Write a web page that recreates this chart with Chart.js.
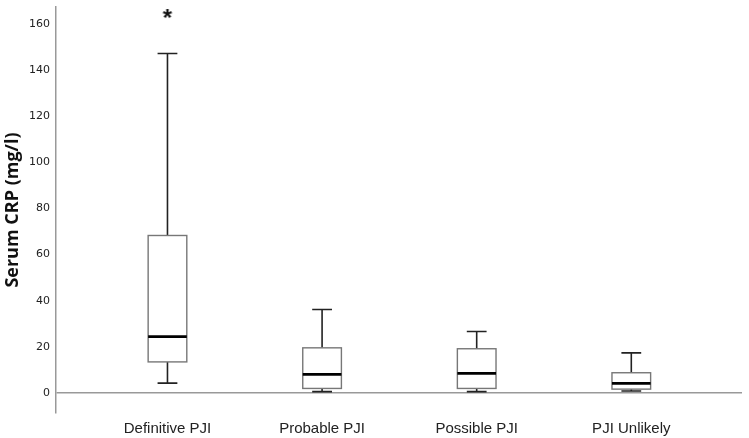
<!DOCTYPE html>
<html>
<head>
<meta charset="utf-8">
<script src="https://cdn.jsdelivr.net/npm/chart.js@4/dist/chart.umd.min.js"></script>
<style>
  html, body { margin: 0; padding: 0; background: #fff; }
  #wrap { width: 749px; height: 438px; }
</style>
</head>
<body>
<div id="wrap"><canvas id="myChart"></canvas></div>
<script>
// values
var categories = ['Definitive PJI', 'Probable PJI', 'Possible PJI', 'PJI Unlikely'];
var whiskerLow = [4.3, 0.6, 0.6, 0.9];
var q1 = [13.5, 2.0, 2.0, 1.7];
var median = [24.5, 8.1, 8.5, 4.2];
var q3 = [68.3, 19.6, 19.2, 8.8];
var whiskerHigh = [147.2, 36.2, 26.7, 17.4];
var outliers = [{ x: 1, y: 164.3 }];
var yTicks = [0, 20, 40, 60, 80, 100, 120, 140, 160];

// asterisk marker for the outlier
var star = document.createElement('canvas');
star.width = 18; star.height = 18;
var sctx = star.getContext('2d');
sctx.fillStyle = '#111';
sctx.font = 'bold 24px "Liberation Sans"';
sctx.textAlign = 'center';
sctx.textBaseline = 'middle';
sctx.fillText('*', 9, 14);

var boxPlugin = {
    id: 'boxes',
    afterDatasetsDraw: function (chart) {
        var ctx = chart.ctx;
        var xs = chart.scales.x, ys = chart.scales.y;
        ctx.save();
        for (var i = 0; i < categories.length; i++) {
            var c = xs.getPixelForValue(i + 1);
            var half = xs.getPixelForValue(i + 1 + 0.125) - c;
            var cap = xs.getPixelForValue(i + 1 + 0.064) - c;
            var yl = ys.getPixelForValue(whiskerLow[i]);
            var y1 = ys.getPixelForValue(q1[i]);
            var ym = ys.getPixelForValue(median[i]);
            var y3 = ys.getPixelForValue(q3[i]);
            var yh = ys.getPixelForValue(whiskerHigh[i]);

            // whiskers
            ctx.strokeStyle = '#222';
            ctx.lineWidth = 1.6;
            ctx.beginPath();
            ctx.moveTo(c, y3); ctx.lineTo(c, yh);
            ctx.moveTo(c - cap, yh); ctx.lineTo(c + cap, yh);
            ctx.moveTo(c, y1); ctx.lineTo(c, yl);
            ctx.moveTo(c - cap, yl); ctx.lineTo(c + cap, yl);
            ctx.stroke();

            // box
            ctx.fillStyle = '#fff';
            ctx.fillRect(c - half, y3, half * 2, y1 - y3);
            ctx.strokeStyle = '#777';
            ctx.lineWidth = 1.4;
            ctx.strokeRect(c - half, y3, half * 2, y1 - y3);

            // median
            ctx.strokeStyle = '#000';
            ctx.lineWidth = 2.8;
            ctx.beginPath();
            ctx.moveTo(c - half, ym); ctx.lineTo(c + half, ym);
            ctx.stroke();
        }
        ctx.restore();
    }
};

var ctx = document.getElementById('myChart');

new Chart(ctx, {
    type: 'scatter',
    data: {
        datasets: [{
            label: 'outliers',
            data: outliers,
            pointStyle: star,
            pointRadius: 6
        }]
    },
    options: {
        responsive: true,
        maintainAspectRatio: false,
        animation: false,
        layout: { padding: { top: 2, right: 4, left: 2, bottom: 0 } },
        plugins: {
            legend: { display: false },
            tooltip: { enabled: false }
        },
        scales: {
            x: {
                type: 'linear',
                min: 0.279,
                max: 4.716,
                afterBuildTicks: function (s) {
                    s.ticks = categories.map(function (c, i) { return { value: i + 1 }; });
                },
                afterFit: function (s) { s.height = 25; s.paddingLeft = 0; s.paddingRight = 0; },
                ticks: {
                    callback: function (v) { return categories[v - 1]; },
                    color: '#222',
                    font: { family: 'Liberation Sans', size: 15 },
                    padding: 7,
                    maxRotation: 0
                },
                grid: { display: false, drawTicks: false },
                border: { display: false }
            },
            y: {
                min: -8.65,
                max: 167.35,
                afterBuildTicks: function (s) {
                    s.ticks = yTicks.map(function (v) { return { value: v }; });
                },
                afterFit: function (s) { s.width = 54; s.paddingTop = 0; s.paddingBottom = 0; },
                title: {
                    display: true,
                    text: 'Serum CRP (mg/l)',
                    color: '#111',
                    font: { family: 'Open Sans', size: 18, weight: 'bold' },
                    padding: 0
                },
                ticks: {
                    color: '#222',
                    font: { family: 'DejaVu Sans', size: 11 },
                    padding: 6
                },
                grid: {
                    drawTicks: false,
                    lineWidth: 1.5,
                    color: function (c) { return c.tick && c.tick.value === 0 ? '#999' : 'rgba(0,0,0,0)'; }
                },
                border: { display: true, color: '#999', width: 1.5 }
            }
        }
    },
    plugins: [boxPlugin]
});
</script>
</body>
</html>
